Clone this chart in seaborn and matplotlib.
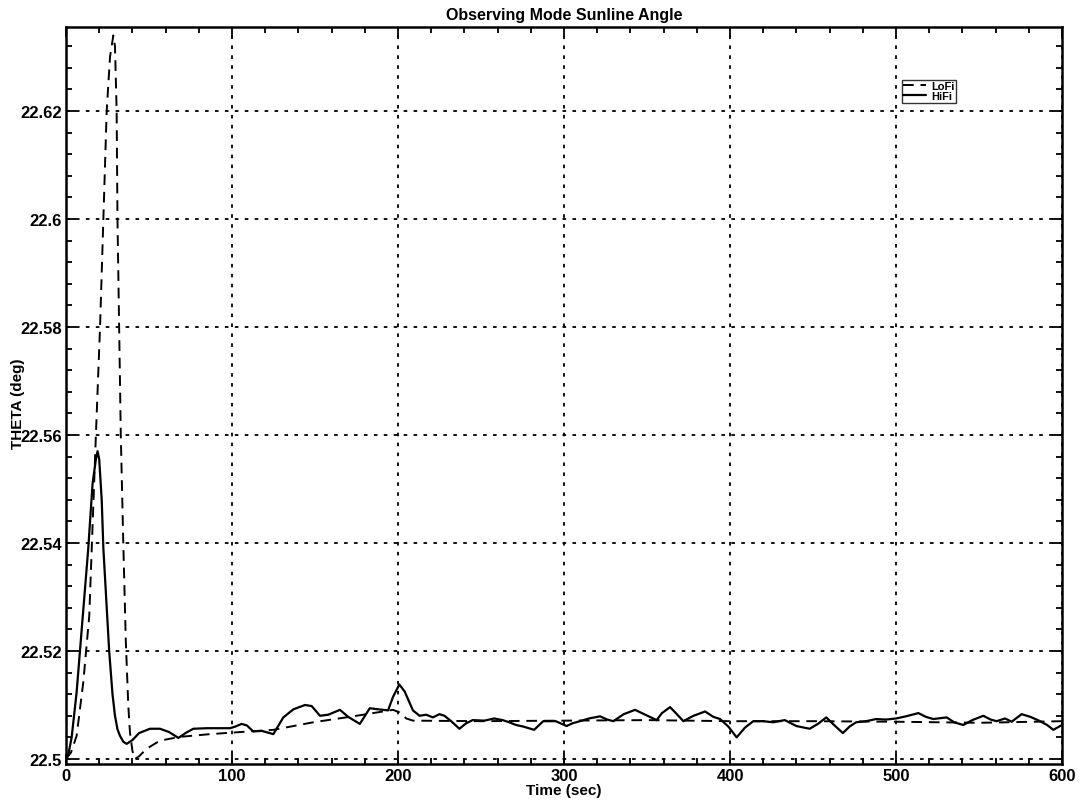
import matplotlib
matplotlib.use("Agg")
import matplotlib.pyplot as plt
import numpy as np
import pandas as pd
import seaborn as sns
from matplotlib.ticker import MultipleLocator

# HiFi response
hifi_t = [0, 1.5, 3.4, 6.4, 8.4, 11, 13.4, 16, 18, 19, 20, 21.5, 22.5, 24.5, 26, 28,
          29.5, 31, 32.5, 34.5, 36.5, 40, 44, 50.6, 56.6, 62, 67.7, 72, 76.7, 85, 92,
          98.8, 102, 105.8, 109, 112.8, 118, 124.9, 130.9, 137, 144, 148, 153, 158,
          165, 170, 177, 183, 188, 194, 197, 200.8, 204, 209, 213, 217, 221, 225, 228,
          232, 237, 241, 245, 252, 258, 263, 267, 271, 275.5, 282, 287.5, 295, 301.6,
          305, 309.6, 315, 321.7, 326, 329.7, 336, 342.8, 349, 355.8, 359, 363.9, 368,
          371.9, 378, 385, 390, 394, 399, 404, 409, 414, 420, 426, 433, 440, 448, 453,
          458, 463, 468, 472, 476, 482, 488, 494, 500, 506, 513.5, 518, 522.5, 530.5,
          535, 540.5, 546, 552.6, 557, 560.6, 565.7, 569.7, 575.7, 581, 586.8, 591,
          594.8, 600]
hifi_v = [22.5, 22.501, 22.504, 22.5124, 22.52, 22.53, 22.539, 22.551, 22.5555, 22.557,
          22.5555, 22.548, 22.539, 22.528, 22.52, 22.512, 22.508, 22.5055, 22.5043,
          22.5032, 22.5028, 22.5035, 22.5048, 22.5056, 22.5056, 22.505, 22.5039,
          22.5048, 22.5056, 22.5057, 22.5057, 22.5057, 22.506, 22.5065, 22.5062,
          22.5051, 22.5052, 22.5046, 22.5077, 22.5092, 22.51, 22.5098, 22.508,
          22.5082, 22.5091, 22.5078, 22.5065, 22.5094, 22.5092, 22.509, 22.5115,
          22.5138, 22.5125, 22.509, 22.508, 22.5082, 22.5077, 22.5083, 22.508,
          22.507, 22.5056, 22.5066, 22.5072, 22.5071, 22.5075, 22.5072, 22.5068,
          22.5063, 22.506, 22.5054, 22.507, 22.507, 22.5061, 22.5066, 22.507,
          22.5075, 22.5079, 22.5073, 22.507, 22.5083, 22.5091, 22.5082, 22.5072,
          22.5085, 22.5096, 22.5083, 22.507, 22.508, 22.5088, 22.5078, 22.5074,
          22.506, 22.504, 22.5058, 22.507, 22.507, 22.5068, 22.5072, 22.5061,
          22.5056, 22.5065, 22.5077, 22.5062, 22.5048, 22.506, 22.5068, 22.507,
          22.5074, 22.5073, 22.5075, 22.5079, 22.5085, 22.5078, 22.5074, 22.5077,
          22.5068, 22.5063, 22.5072, 22.508, 22.5073, 22.507, 22.5075, 22.5069,
          22.5083, 22.5078, 22.507, 22.5063, 22.5054, 22.5063]

# LoFi response
lofi_t = [0, 3, 6.4, 10.4, 14, 15.5, 18, 20.5, 22.5, 24.5, 26.5, 28.5, 29.5, 30.5, 31,
          32, 33, 34.5, 36, 37.5, 38.5, 40, 41.6, 44, 48.6, 56.6, 68.7, 86.7, 100.8,
          125, 149, 173, 197, 201, 205, 209, 250, 300, 350, 400, 450, 500, 550, 600]
lofi_v = [22.5, 22.5012, 22.5043, 22.5142, 22.5265, 22.539, 22.56, 22.58, 22.6, 22.62,
          22.63, 22.634, 22.632, 22.62, 22.6, 22.58, 22.56, 22.54, 22.522, 22.51,
          22.505, 22.5015, 22.5, 22.5005, 22.5019, 22.5034, 22.5041, 22.5046,
          22.5049, 22.5054, 22.5068, 22.5079, 22.5091, 22.5086, 22.5075, 22.5071,
          22.507, 22.5071, 22.5072, 22.507, 22.507, 22.5069, 22.5067, 22.507]

y_ticks = [22.5, 22.52, 22.54, 22.56, 22.58, 22.6, 22.62]
y_labels = ["22.5", "22.52", "22.54", "22.56", "22.58", "22.6", "22.62"]
x_ticks = [0, 100, 200, 300, 400, 500, 600]

sns.set_theme(style="ticks")
plt.rcParams["font.family"] = ["Liberation Sans", "DejaVu Sans"]
plt.rcParams["text.color"] = "black"
plt.rcParams["axes.labelcolor"] = "black"

fig = plt.figure(figsize=(10.84, 8.04), dpi=100)
ax = fig.add_axes([0.0609, 0.0485, 0.9188, 0.9167])

lofi_df = pd.DataFrame({"t": lofi_t, "v": lofi_v})
hifi_df = pd.DataFrame({"t": hifi_t, "v": hifi_v})

sns.lineplot(data=lofi_df, x="t", y="v", ax=ax, color="black", linewidth=1.4,
             linestyle=(0, (5.5, 3.5)), label="LoFi", sort=False)
sns.lineplot(data=hifi_df, x="t", y="v", ax=ax, color="black", linewidth=1.6,
             label="HiFi", sort=False)

ax.set_xlim(0, 600)
ax.set_ylim(22.49907, 22.63556)
ax.set_xticks(x_ticks)
ax.set_xticklabels([str(x) for x in x_ticks])
ax.set_yticks(y_ticks)
ax.set_yticklabels(y_labels)
ax.xaxis.set_minor_locator(MultipleLocator(20))
ax.yaxis.set_minor_locator(MultipleLocator(0.004))

ax.tick_params(which="both", direction="in", top=True, right=True, colors="black",
               labelsize=12, width=1.3, pad=3)
ax.tick_params(which="major", length=7)
ax.tick_params(which="minor", length=4)
for lab in ax.get_xticklabels() + ax.get_yticklabels():
    lab.set_fontweight("bold")

for s in ax.spines.values():
    s.set_linewidth(1.8)
    s.set_color("black")

ax.grid(True, which="major", color="black", linestyle=(0, (2, 3.5)), linewidth=1.3)

ax.set_title("Observing Mode Sunline Angle", fontsize=11.5, fontweight="bold",
             color="black", pad=6)
ax.set_xlabel("Time (sec)", fontsize=11, fontweight="bold", labelpad=0)
ax.set_ylabel("THETA (deg)", fontsize=11, fontweight="bold")
ax.yaxis.set_label_coords(-0.041, 0.49)

leg = ax.legend(loc="upper left", bbox_to_anchor=(0.839, 0.9285), borderaxespad=0,
                prop={"size": 8, "weight": "bold"}, frameon=True, fancybox=False,
                handlelength=2.0, borderpad=0.15, labelspacing=0.0, handletextpad=0.5)
leg.get_frame().set_edgecolor("black")
leg.get_frame().set_linewidth(1.0)

fig.savefig("out.png", dpi=100)
